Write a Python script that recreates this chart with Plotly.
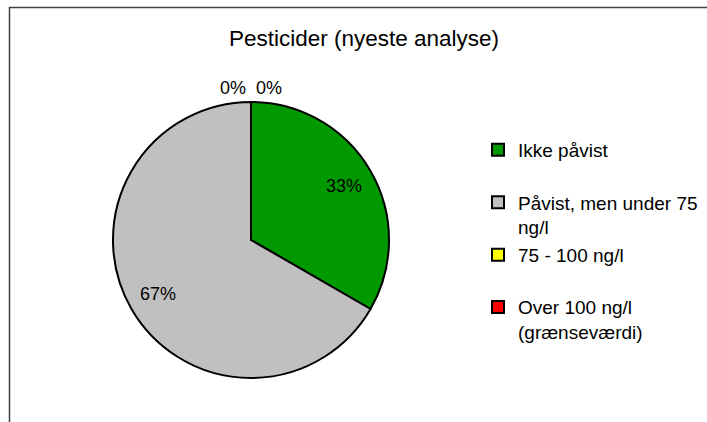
import math
import plotly.graph_objects as go

labels = ["Ikke påvist", "Påvist, men under 75<br>ng/l", "75 - 100 ng/l", "Over 100 ng/l<br>(grænseværdi)"]
values = [1, 2, 0, 0]
colors = ["#009900", "#C0C0C0", "#FFFF00", "#FF0000"]

W, H = 707, 422
FONT = "Arial, Liberation Sans, sans-serif"

# pie geometry in pixels
CX, CY, R = 251, 240, 138

total = sum(values)
pct = [f"{round(100 * v / total)}%" for v in values]

# legend entries padded to two lines so the spacing matches
legend_names = [l if "<br>" in l else l + "<br> " for l in labels]

fig = go.Figure()
fig.add_trace(
    go.Pie(
        labels=legend_names,
        values=values,
        marker=dict(colors=colors, line=dict(color="#000000", width=2)),
        sort=False,
        direction="clockwise",
        rotation=0,
        textinfo="none",
        hoverinfo="label+percent",
        domain=dict(x=[(CX - R) / W, (CX + R) / W], y=[1 - (CY + R) / H, 1 - (CY - R) / H]),
    )
)

# percentage labels, Excel style, along each slice's mid-angle
cum = 0
zero_i = 0
for v, p in zip(values, pct):
    if v > 0:
        mid = 2 * math.pi * (cum + v / 2) / total
        px = CX + 0.78 * R * math.sin(mid)
        py = CY - 0.78 * R * math.cos(mid)
    else:
        # zero-share slices sit at the top of the pie, labels side by side
        px = 233 + 36 * zero_i
        py = 88
        zero_i += 1
    cum += v
    fig.add_annotation(
        x=px / W, y=1 - py / H, xref="paper", yref="paper",
        text=p, showarrow=False, xanchor="center", yanchor="middle",
        font=dict(family=FONT, size=18, color="#000000"),
    )

# chart frame
fig.add_shape(
    type="rect", xref="paper", yref="paper",
    x0=9.5 / W, y0=1 - 7.5 / H, x1=1.2, y1=-0.2,
    line=dict(color="#404040", width=1.5), fillcolor="rgba(0,0,0,0)",
)

fig.update_layout(
    width=W,
    height=H,
    margin=dict(l=0, r=0, t=0, b=0),
    paper_bgcolor="#FFFFFF",
    plot_bgcolor="#FFFFFF",
    font=dict(family=FONT, color="#000000"),
    title=dict(
        text="Pesticider (nyeste analyse)",
        x=364 / W, xanchor="center",
        y=1 - 38 / H, yanchor="middle",
        font=dict(family=FONT, size=22.5, color="#000000"),
    ),
    legend=dict(
        x=478 / W, xanchor="left",
        y=1 - 131 / H, yanchor="top",
        valign="top",
        font=dict(family=FONT, size=19, color="#000000"),
        bgcolor="rgba(0,0,0,0)",
    ),
)

# page body has a default margin; drop it so the figure sits at 0,0
fig.write_html(
    "out.html",
    config={"displayModeBar": False},
    post_script="document.body.style.margin='0';",
)
